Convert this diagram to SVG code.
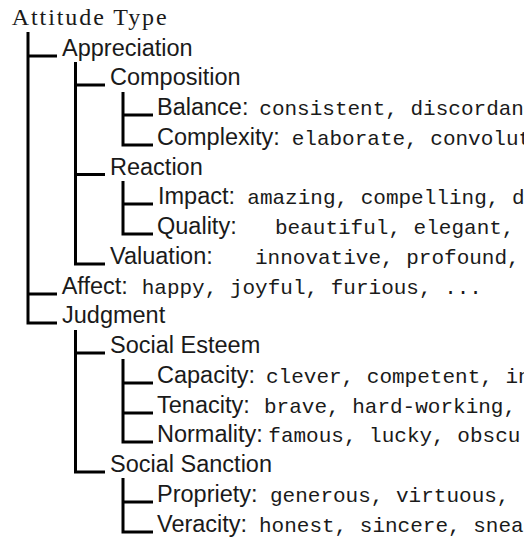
<svg xmlns="http://www.w3.org/2000/svg" width="524" height="537" viewBox="0 0 524 537">
<style>
.bg{fill:#ffffff}
.root{font-family:"Liberation Serif","Times New Roman",serif;font-size:24px;fill:#1a1a1a}
.lbl{font-family:"Liberation Sans",Arial,sans-serif;font-size:23.5px;fill:#1a1a1a}
.tt{font-family:"Liberation Mono","Courier New",monospace;font-size:21px;fill:#1a1a1a}
.con path{fill:none;stroke:#000;stroke-width:3;stroke-linejoin:miter}
</style>
<rect class="bg" x="0" y="0" width="524" height="537"/>
<g class="con" id="connectors">
<path d="M28,32 V323 H57 M28,56 H57 M28,294 H57"/>
<path d="M75.5,62 V264 H105 M75.5,85 H105 M75.5,174.5 H105"/>
<path d="M123,92 V145 H153 M123,115 H153"/>
<path d="M123,181 V234 H153 M123,204 H153"/>
<path d="M75.5,330 V472 H105 M75.5,353 H105"/>
<path d="M123,359 V442 H153 M123,383 H153 M123,413 H153"/>
<path d="M123,478 V532 H153 M123,502 H153"/>
</g>
<g id="attitude-type"><text class="root" x="11.7" y="25" textLength="155" lengthAdjust="spacing">Attitude Type</text></g>
<g id="appreciation"><text class="lbl" x="62" y="56">Appreciation</text></g>
<g id="composition"><text class="lbl" x="110" y="85">Composition</text></g>
<g id="balance"><text class="lbl" x="157" y="115">Balance:</text><text class="tt" x="259.3" y="115">consistent, discordant</text></g>
<g id="complexity"><text class="lbl" x="157" y="145">Complexity:</text><text class="tt" x="291.7" y="145">elaborate, convolut</text></g>
<g id="reaction"><text class="lbl" x="110" y="174.5">Reaction</text></g>
<g id="impact"><text class="lbl" x="158" y="204">Impact:</text><text class="tt" x="247.3" y="204">amazing, compelling, d</text></g>
<g id="quality"><text class="lbl" x="157" y="234">Quality:</text><text class="tt" x="275" y="234">beautiful, elegant,</text></g>
<g id="valuation"><text class="lbl" x="110" y="264">Valuation:</text><text class="tt" x="255" y="264">innovative, profound,</text></g>
<g id="affect"><text class="lbl" x="61.7" y="294">Affect:</text><text class="tt" x="141.7" y="294">happy, joyful, furious, ...</text></g>
<g id="judgment"><text class="lbl" x="62" y="323">Judgment</text></g>
<g id="social-esteem"><text class="lbl" x="110" y="353">Social Esteem</text></g>
<g id="capacity"><text class="lbl" x="157" y="383">Capacity:</text><text class="tt" x="266" y="383">clever, competent, in</text></g>
<g id="tenacity"><text class="lbl" x="157" y="413">Tenacity:</text><text class="tt" x="264" y="413">brave, hard-working,</text></g>
<g id="normality"><text class="lbl" x="157" y="442">Normality:</text><text class="tt" x="268.3" y="442">famous, lucky, obscu</text></g>
<g id="social-sanction"><text class="lbl" x="110" y="472">Social Sanction</text></g>
<g id="propriety"><text class="lbl" x="157" y="502">Propriety:</text><text class="tt" x="270" y="502">generous, virtuous,</text></g>
<g id="veracity"><text class="lbl" x="157" y="532">Veracity:</text><text class="tt" x="259" y="532">honest, sincere, snea</text></g>
</svg>
